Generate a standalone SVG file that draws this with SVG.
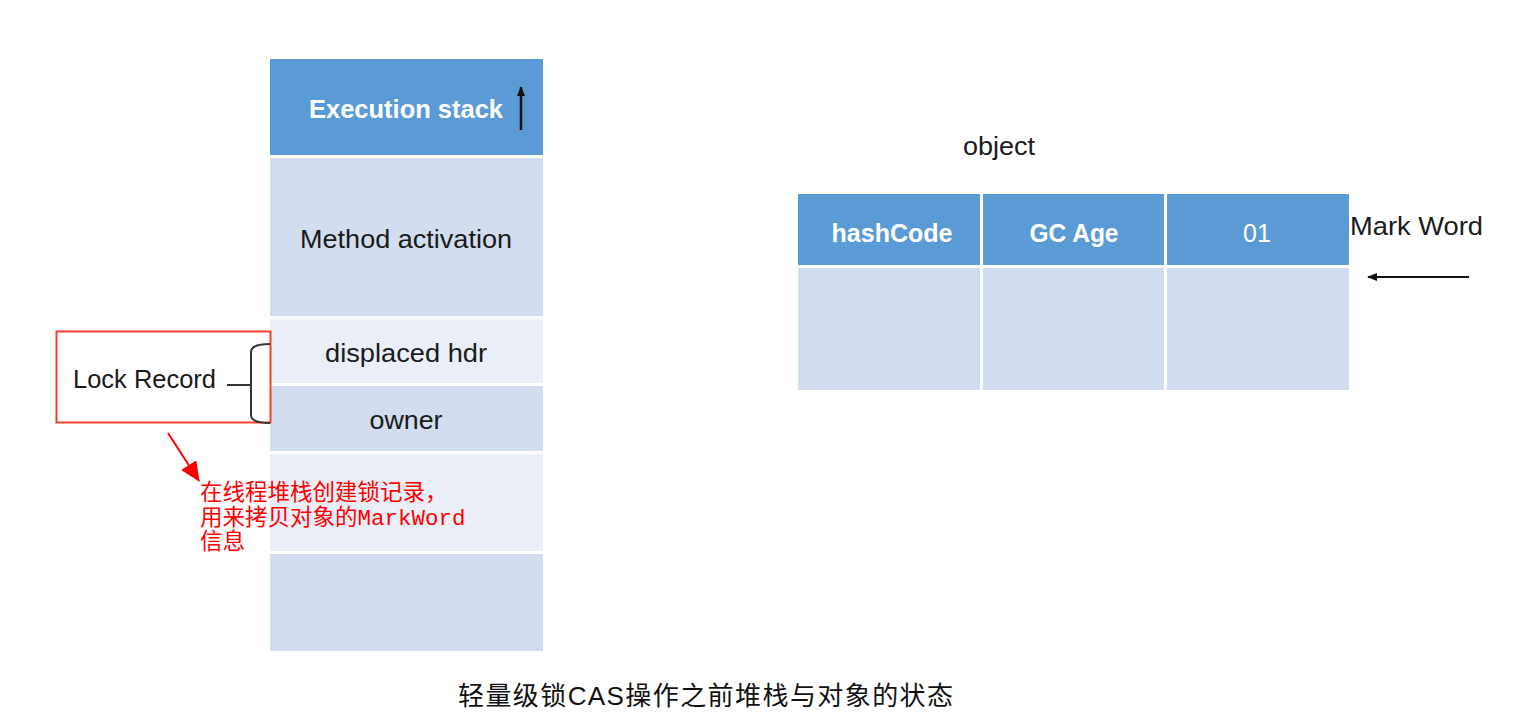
<svg xmlns="http://www.w3.org/2000/svg" width="1514" height="722" viewBox="0 0 1514 722">
  <style>
    .dark { fill: #5B9BD5; }
    .mid { fill: #D2DEEF; }
    .light { fill: #E9EEF7; }
    .lbl { font-family: "Liberation Sans", Arial, sans-serif; font-size: 25px; fill: #1a1a1a; }
    .wlbl { font-family: "Liberation Sans", Arial, sans-serif; font-size: 25px; font-weight: bold; fill: #ffffff; }
    .red { font-family: "Liberation Mono", "Noto Sans CJK SC", monospace; font-size: 22.5px; fill: #ff0000; }
    .cap { font-family: "Liberation Sans", "Noto Sans CJK SC", sans-serif; font-size: 26px; fill: #111111; }
  </style>
  <defs>
    <marker id="arrBlack" markerWidth="10" markerHeight="8" refX="9" refY="4" orient="auto" markerUnits="userSpaceOnUse">
      <path d="M0,0 L10,4 L0,8 Z" fill="#111"/>
    </marker>
    <marker id="arrRed" markerWidth="20" markerHeight="18" refX="19" refY="9" orient="auto" markerUnits="userSpaceOnUse">
      <path d="M0,0 L20,9 L0,18 Z" fill="#ff0000"/>
    </marker>
  </defs>
  <rect width="1514" height="722" fill="#ffffff"/>

  <g id="stack">
    <g id="execution-stack">
      <rect x="270" y="59" width="273" height="96" class="dark"/>
      <text x="309" y="118" class="wlbl" textLength="194" lengthAdjust="spacingAndGlyphs">Execution stack</text>
    </g>
    <g id="method-activation">
      <rect x="270" y="158" width="273" height="158" class="mid"/>
      <text x="406" y="248" class="lbl" text-anchor="middle" textLength="212" lengthAdjust="spacingAndGlyphs">Method activation</text>
    </g>
    <g id="displaced-hdr">
      <rect x="270" y="319" width="273" height="64" class="light"/>
      <text x="406" y="362" class="lbl" text-anchor="middle" textLength="162" lengthAdjust="spacingAndGlyphs">displaced hdr</text>
    </g>
    <g id="owner">
      <rect x="270" y="386" width="273" height="65" class="mid"/>
      <text x="406" y="429" class="lbl" text-anchor="middle" textLength="73" lengthAdjust="spacingAndGlyphs">owner</text>
    </g>
    <g id="stack-empty-1">
      <rect x="270" y="454" width="273" height="97" class="light"/>
    </g>
    <g id="stack-empty-2">
      <rect x="270" y="554" width="273" height="97" class="mid"/>
    </g>
  </g>

  <g id="lock-record">
    <rect x="56.5" y="331.5" width="214" height="91" fill="none" stroke="#f2402c" stroke-width="2"/>
    <text x="73" y="388" class="lbl" textLength="143" lengthAdjust="spacingAndGlyphs">Lock Record</text>
  </g>

  <g id="object">
    <text x="999" y="155" class="lbl" text-anchor="middle" textLength="72" lengthAdjust="spacingAndGlyphs">object</text>
    <g id="hashcode">
      <rect x="798" y="194" width="182" height="71" class="dark"/>
      <rect x="798" y="268" width="182" height="122" class="mid"/>
      <text x="892" y="242" class="wlbl" text-anchor="middle" textLength="121" lengthAdjust="spacingAndGlyphs">hashCode</text>
    </g>
    <g id="gc-age">
      <rect x="983" y="194" width="181" height="71" class="dark"/>
      <rect x="983" y="268" width="181" height="122" class="mid"/>
      <text x="1074" y="242" class="wlbl" text-anchor="middle" textLength="89" lengthAdjust="spacingAndGlyphs">GC Age</text>
    </g>
    <g id="lock-bits">
      <rect x="1167" y="194" width="182" height="71" class="dark"/>
      <rect x="1167" y="268" width="182" height="122" class="mid"/>
      <text x="1257" y="242" class="wlbl" text-anchor="middle" style="font-weight:normal">01</text>
    </g>
  </g>

  <g id="mark-word">
    <text x="1350" y="235" class="lbl" textLength="133" lengthAdjust="spacingAndGlyphs">Mark Word</text>
  </g>

  <g id="annotation">
    <text class="red">
      <tspan x="200" y="500">在线程堆栈创建锁记录，</tspan>
      <tspan x="200" y="525">用来拷贝对象的MarkWord</tspan>
      <tspan x="200" y="549">信息</tspan>
    </text>
  </g>

  <g id="connectors" fill="none">
    <line x1="521" y1="130" x2="521" y2="87" stroke="#111" stroke-width="2.5" marker-end="url(#arrBlack)"/>
    <path d="M270,344 Q251,344 251,352 L251,415 Q251,423 270,423" stroke="#333" stroke-width="2"/>
    <path d="M227,385 L251,385" stroke="#333" stroke-width="2"/>
    <line x1="1469" y1="277" x2="1368" y2="277" stroke="#111" stroke-width="2" marker-end="url(#arrBlack)"/>
    <line x1="168" y1="433" x2="199" y2="481" stroke="#ff0000" stroke-width="2" marker-end="url(#arrRed)"/>
  </g>

  <g id="caption">
    <text x="458" y="705" class="cap" textLength="495" lengthAdjust="spacing">轻量级锁CAS操作之前堆栈与对象的状态</text>
  </g>
</svg>
